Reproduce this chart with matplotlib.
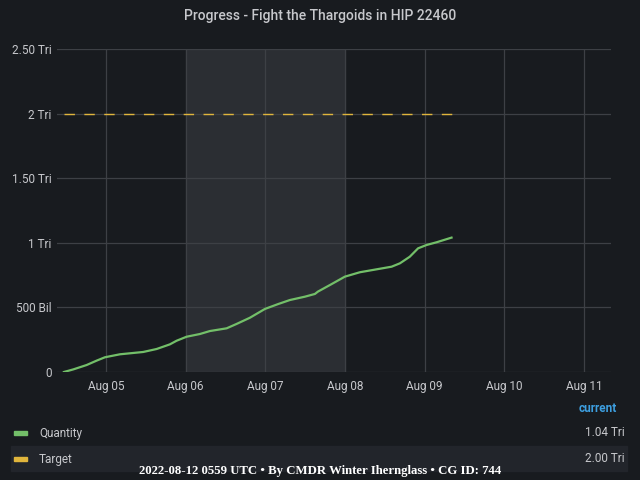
import pandas as pd
import matplotlib
matplotlib.use('Agg')
import matplotlib.pyplot as plt
import matplotlib.dates as mdates
from matplotlib.patches import Rectangle

# Data (values in trillions)
times = ['2022-08-04 11:21', '2022-08-04 14:09', '2022-08-04 18:11', '2022-08-04 21:12',
         '2022-08-04 23:42', '2022-08-05 04:13', '2022-08-05 11:14', '2022-08-05 15:16',
         '2022-08-05 19:16', '2022-08-05 21:17', '2022-08-06 00:18', '2022-08-06 04:18',
         '2022-08-06 07:19', '2022-08-06 12:21', '2022-08-06 15:21', '2022-08-06 19:22',
         '2022-08-06 23:53', '2022-08-07 03:53', '2022-08-07 07:24', '2022-08-07 11:56',
         '2022-08-07 14:56', '2022-08-07 15:50', '2022-08-07 19:27', '2022-08-07 23:58',
         '2022-08-08 04:29', '2022-08-08 14:02', '2022-08-08 16:32', '2022-08-08 19:30',
         '2022-08-08 22:00', '2022-08-09 00:34', '2022-08-09 03:35', '2022-08-09 08:05']
quantity = [0.0, 0.020, 0.054, 0.088,
            0.114, 0.137, 0.155, 0.178,
            0.214, 0.242, 0.273, 0.294,
            0.317, 0.338, 0.372, 0.420,
            0.488, 0.526, 0.557, 0.583,
            0.604, 0.622, 0.673, 0.738,
            0.772, 0.815, 0.841, 0.892,
            0.957, 0.983, 1.004, 1.040]
target = 2.0
yticks = [0, 0.5, 1, 1.5, 2, 2.5]
ytick_labels = ['0', '500 Bil', '1 Tri', '1.50 Tri', '2 Tri', '2.50 Tri']
xticks = ['2022-08-05', '2022-08-06', '2022-08-07', '2022-08-08', '2022-08-09', '2022-08-10', '2022-08-11']
shade = ['2022-08-06', '2022-08-08']
legend_names = ['Quantity', 'Target']
legend_values = ['1.04 Tri', '2.00 Tri']

bg = '#181b1f'
text_col = '#c7c8cc'
green = '#73bf69'
yellow = '#e0b53c'

plt.rcParams['font.family'] = ['Roboto', 'DejaVu Sans']

t = pd.to_datetime(times)
fig = plt.figure(figsize=(6.4, 4.8), dpi=100, facecolor=bg)
ax = fig.add_axes([0.089, 0.225, 0.866, 0.673], facecolor=bg)

ax.axvspan(pd.Timestamp(shade[0]), pd.Timestamp(shade[1]), color='#2b2e33', zorder=0)
ax.plot(t, quantity, color=green, lw=1.6, zorder=3, solid_joinstyle='round')
ax.plot([t[0], t[-1]], [target, target], color=yellow, lw=1.0, dashes=(7.5, 6.8), zorder=3)

ax.set_xlim(pd.Timestamp('2022-08-04 09:15'), pd.Timestamp('2022-08-11 08:10'))
ax.set_ylim(0, 2.5)
ax.set_yticks(yticks)
ax.set_yticklabels(ytick_labels)
ax.set_xticks(pd.to_datetime(xticks))
ax.xaxis.set_major_formatter(mdates.DateFormatter('%b %d'))
ax.grid(True, color='#3d4045', lw=0.9)
ax.set_axisbelow(True)
for s in ax.spines.values():
    s.set_visible(False)
ax.tick_params(length=0, colors=text_col, labelsize=8.5)
ax.tick_params(axis='y', pad=4)
ax.tick_params(axis='x', pad=6)

fig.text(0.5, 0.966, 'Progress - Fight the Thargoids in HIP 22460', ha='center', va='center',
         color=text_col, fontsize=10, fontweight='medium')

# legend table
fig.text(617 / 640, 1 - 408 / 480, 'current', ha='right', va='center', color='#3d9fe0',
         fontsize=8.5, fontweight='bold')
fig.patches.append(Rectangle((11 / 640, 1 - 471 / 480), 616 / 640, 25 / 480,
                             transform=fig.transFigure, color='#22252b', zorder=0))
for i, (name, val, col) in enumerate(zip(legend_names, legend_values, [green, yellow])):
    yy = 1 - (433 + i * 26) / 480
    fig.patches.append(Rectangle((14 / 640, yy - 2 / 480), 13 / 640, 4 / 480,
                                 transform=fig.transFigure, color=col))
    fig.text(39 / 640, yy, name, ha='left', va='center', color=text_col, fontsize=8.5)
    fig.text(625 / 640, yy, val, ha='right', va='center', color=text_col, fontsize=8.5)

fig.text(0.5, 1 - 471 / 480, '2022-08-12 0559 UTC \u2022 By CMDR Winter Ihernglass \u2022 CG ID: 744',
         ha='center', va='center', color='white', fontsize=9.2, fontweight='bold',
         family=['Liberation Serif', 'DejaVu Serif'])

fig.savefig('out.png', dpi=100, facecolor=bg)
